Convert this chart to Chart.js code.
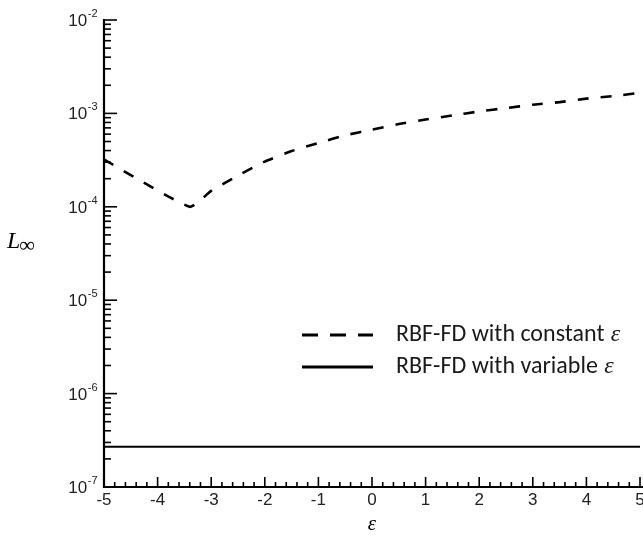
<!DOCTYPE html>
<html>
<head>
<meta charset="utf-8">
<script src="https://cdn.jsdelivr.net/npm/chart.js@4.4.1/dist/chart.umd.min.js"></script>
<style>
  html,body{margin:0;padding:0;background:#fff;}
  #wrap{width:643px;height:539px;}
</style>
</head>
<body>
<div id="wrap"><canvas id="c" width="643" height="539"></canvas></div>
<script>
// ---- data ----
const epsConstant = [-5, -3.4, -3, -2.5, -2, -1.5, -1, -0.5, 0, 0.5, 1, 1.5, 2, 2.5, 3, 3.5, 4, 4.5, 5];
const errConstant = [3.2e-4, 1.0e-4, 1.48e-4, 2.16e-4, 3.05e-4, 3.95e-4, 4.82e-4, 5.83e-4, 6.7e-4, 7.7e-4, 8.6e-4, 9.5e-4, 1.05e-3, 1.14e-3, 1.24e-3, 1.32e-3, 1.44e-3, 1.53e-3, 1.66e-3];
const epsVariable = [-5, 5];
const errVariable = [2.7e-7, 2.7e-7];
const xTicks = [-5, -4, -3, -2, -1, 0, 1, 2, 3, 4, 5];
const yDecadeExp = [-7, -6, -5, -4, -3, -2];
const seriesNames = ['RBF-FD with constant ', 'RBF-FD with variable '];

const toPts = (xs, ys) => xs.map((x, i) => ({x: x, y: ys[i]}));

const decorPlugin = {
  id: 'decor',
  afterDraw(chart) {
    const ctx = chart.ctx;
    const xs = chart.scales.x, ys = chart.scales.y;
    const left = chart.chartArea.left, bottom = chart.chartArea.bottom;
    ctx.save();
    ctx.strokeStyle = '#000';
    // y ticks (inward)
    ctx.lineWidth = 1.6;
    yDecadeExp.forEach((e, idx) => {
      const base = Math.pow(10, e);
      const py = ys.getPixelForValue(base);
      ctx.beginPath(); ctx.moveTo(left, py); ctx.lineTo(left + 13, py); ctx.stroke();
      if (idx < yDecadeExp.length - 1) {
        for (let m = 2; m <= 9; m++) {
          const p = ys.getPixelForValue(base * m);
          ctx.beginPath(); ctx.moveTo(left, p); ctx.lineTo(left + 7, p); ctx.stroke();
        }
      }
      // labels
      ctx.fillStyle = '#222';
      ctx.textBaseline = 'alphabetic';
      const expStr = String(e);
      ctx.font = '11px "Liberation Sans", Arial, sans-serif';
      const ew = ctx.measureText(expStr).width;
      ctx.font = '17px "Liberation Sans", Arial, sans-serif';
      const bw = ctx.measureText('10').width;
      const rightEdge = left - 7;
      const bx = rightEdge - ew - bw;
      ctx.textAlign = 'left';
      ctx.fillText('10', bx, py + 6);
      ctx.font = '11px "Liberation Sans", Arial, sans-serif';
      ctx.fillText(expStr, bx + bw + 0.5, py - 3);
    });
    // x ticks (inward)
    for (let k = -25; k <= 25; k++) {
      const v = k / 5;
      const px = xs.getPixelForValue(v);
      const major = (k % 5 === 0);
      ctx.beginPath(); ctx.moveTo(px, bottom); ctx.lineTo(px, bottom - (major ? 10 : 5)); ctx.stroke();
    }
    // axes
    ctx.lineWidth = 2.2;
    ctx.beginPath();
    ctx.moveTo(left, chart.chartArea.top - 1);
    ctx.lineTo(left, bottom);
    ctx.lineTo(chart.width, bottom);
    ctx.stroke();

    // y axis title L_inf
    ctx.fillStyle = '#000';
    ctx.textAlign = 'left';
    ctx.textBaseline = 'alphabetic';
    ctx.font = 'italic 24px "Liberation Serif", "Times New Roman", serif';
    ctx.fillText('L', 7, 248);
    const lw = ctx.measureText('L').width;
    ctx.font = '22px "Liberation Serif", "Times New Roman", serif';
    ctx.fillText('\u221E', 6 + lw, 252);

    // legend
    const ds = chart.data.datasets;
    const legY = [335, 367];
    const targetW = 230;
    ds.forEach((d, i) => {
      const y = legY[i];
      ctx.strokeStyle = d.borderColor;
      ctx.lineWidth = 3.2;
      ctx.setLineDash(i === 0 ? [16, 12] : []);
      ctx.beginPath(); ctx.moveTo(302, y); ctx.lineTo(373, y); ctx.stroke();
      ctx.setLineDash([]);
      // fit font size to the reference text width
      ctx.font = '20px Carlito, "Open Sans", "Noto Sans", sans-serif';
      const w0 = ctx.measureText(seriesNames[0]).width;
      ctx.font = 'italic 20px "Liberation Serif", serif';
      const we = ctx.measureText('\u03B5').width;
      const fs = Math.round(20 * targetW / (w0 + we + 2));
      ctx.fillStyle = '#1a1a1a';
      ctx.textBaseline = 'middle';
      ctx.font = fs + 'px Carlito, "Open Sans", "Noto Sans", sans-serif';
      ctx.fillText(seriesNames[i], 396, y);
      const tw = ctx.measureText(seriesNames[i]).width;
      ctx.font = 'italic ' + fs + 'px "Liberation Serif", serif';
      ctx.fillText('\u03B5', 396 + tw + 1, y);
    });
    ctx.restore();
  }
};

new Chart(document.getElementById('c'), {
  type: 'line',
  data: {
    datasets: [
      { label: seriesNames[0], data: toPts(epsConstant, errConstant), borderColor: '#000', borderWidth: 2.6, borderDash: [11, 12], pointRadius: 0, tension: 0.15, fill: false },
      { label: seriesNames[1], data: toPts(epsVariable, errVariable), borderColor: '#000', borderWidth: 2, pointRadius: 0, fill: false }
    ]
  },
  options: {
    responsive: false,
    animation: false,
    devicePixelRatio: 1,
    layout: { padding: { top: 20, right: 3, left: 0, bottom: 0 } },
    plugins: { legend: { display: false }, tooltip: { enabled: false } },
    scales: {
      x: {
        type: 'linear', min: -5, max: 5,
        afterBuildTicks: s => { s.ticks = xTicks.map(v => ({value: v})); },
        afterFit: s => { s.height = 52; s.paddingRight = 0; s.paddingLeft = 0; },
        grid: { display: false, drawTicks: false },
        border: { display: false },
        ticks: { color: '#222', padding: 3, maxRotation: 0, font: { size: 17, family: '"Liberation Sans", Arial, sans-serif' }, callback: v => String(v) },
        title: { display: true, text: '\u03B5', color: '#000', padding: { top: 0, bottom: 2 }, font: { size: 21, style: 'italic', family: '"Liberation Serif", serif' } }
      },
      y: {
        type: 'logarithmic', min: 1e-7, max: 1e-2,
        afterFit: s => { s.width = 104; s.paddingTop = 0; s.paddingBottom = 0; },
        grid: { display: false, drawTicks: false },
        border: { display: false },
        ticks: { display: false }
      }
    }
  },
  plugins: [decorPlugin]
});
</script>
</body>
</html>
